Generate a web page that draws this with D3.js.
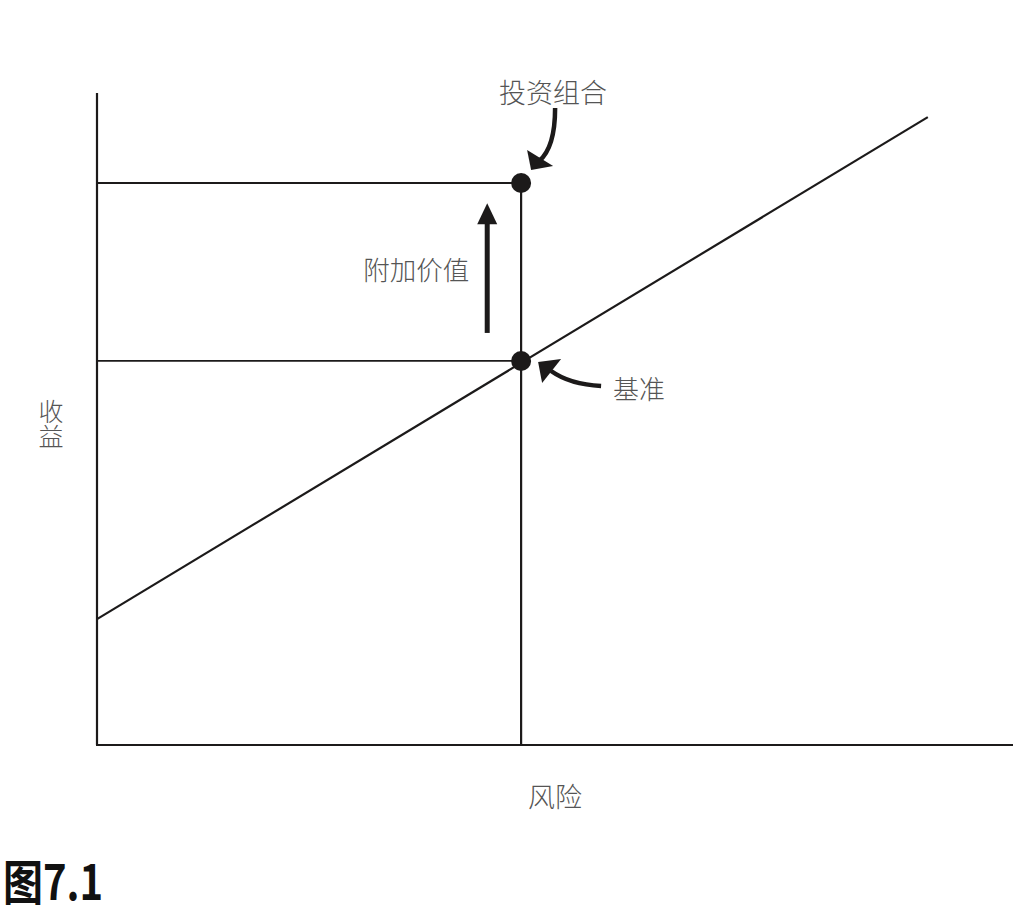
<!DOCTYPE html>
<html><head><meta charset="utf-8">
<script src="https://cdn.jsdelivr.net/npm/d3@7"></script>
<style>html,body{margin:0;padding:0;background:#fff;}</style>
</head><body>
<script>
// Data (abstract units, 0-100)
const riskDomain = [0, 100];
const returnDomain = [0, 100];
const benchmarkLine = [{risk: 0, ret: 19.3}, {risk: 90.7, ret: 96.3}];
const points = [
  {name: "投资组合", risk: 46.3, ret: 86.2},
  {name: "基准", risk: 46.3, ret: 58.9}
];
const valueAdded = {label: "附加价值", risk: 42.6, from: 63.2, to: 83.1};
const axisLabels = {x: "风险", y: "收益"};
const figureTitle = "图7.1";

const W = 1030, H = 918;
const svg = d3.select("body").append("svg").attr("width", W).attr("height", H);
const x = d3.scaleLinear().domain(riskDomain).range([97, 1013]);
const y = d3.scaleLinear().domain(returnDomain).range([745, 93]);
const ink = "#1c1a1a";
const txt = "#555";
const font = "'Noto Sans CJK SC', 'Noto Sans', sans-serif";

// axes
svg.append("line").attr("x1", x(0)).attr("x2", x(0)).attr("y1", y(100)).attr("y2", y(0))
  .attr("stroke", ink).attr("stroke-width", 2.2);
svg.append("line").attr("x1", x(0) - 1).attr("x2", x(100)).attr("y1", y(0)).attr("y2", y(0))
  .attr("stroke", ink).attr("stroke-width", 2.2);

// benchmark line
svg.append("path").datum(benchmarkLine)
  .attr("d", d3.line().x(d => x(d.risk)).y(d => y(d.ret)))
  .attr("fill", "none").attr("stroke", ink).attr("stroke-width", 2.2);

// guide lines
const port = points[0], bench = points[1];
svg.append("line").attr("x1", x(port.risk)).attr("x2", x(port.risk)).attr("y1", y(port.ret)).attr("y2", y(0))
  .attr("stroke", ink).attr("stroke-width", 2.2);
points.forEach(p => {
  svg.append("line").attr("x1", x(0)).attr("x2", x(p.risk)).attr("y1", y(p.ret)).attr("y2", y(p.ret))
    .attr("stroke", ink).attr("stroke-width", 1.8);
});
svg.selectAll("circle.pt").data(points).join("circle").attr("class", "pt")
  .attr("cx", d => x(d.risk)).attr("cy", d => y(d.ret)).attr("r", 10).attr("fill", ink);

// value added arrow
const ax = x(valueAdded.risk);
svg.append("line").attr("x1", ax).attr("x2", ax).attr("y1", y(valueAdded.from)).attr("y2", y(valueAdded.to) + 16)
  .attr("stroke", ink).attr("stroke-width", 5);
svg.append("path")
  .attr("d", `M${ax},${y(valueAdded.to)} L${ax + 10},${y(valueAdded.to) + 21} L${ax - 10},${y(valueAdded.to) + 21} Z`)
  .attr("fill", ink);
svg.append("text").attr("x", ax - 18).attr("y", (y(valueAdded.from) + y(valueAdded.to)) / 2)
  .attr("text-anchor", "end").attr("dominant-baseline", "central")
  .attr("font-family", font).attr("font-weight", 300).attr("font-size", 26.5).attr("fill", txt)
  .text(valueAdded.label);

// portfolio label + curved arrow
const px = x(port.risk), py = y(port.ret);
svg.append("text").attr("x", px + 32).attr("y", py - 91)
  .attr("text-anchor", "middle").attr("dominant-baseline", "central")
  .attr("font-family", font).attr("font-weight", 300).attr("font-size", 27).attr("fill", txt)
  .text(port.name);
svg.append("path")
  .attr("d", `M${px + 34},${py - 75} C${px + 34},${py - 50} ${px + 30},${py - 32} ${px + 18},${py - 22}`)
  .attr("fill", "none").attr("stroke", ink).attr("stroke-width", 4.5);
svg.append("path")
  .attr("d", `M${px + 10},${py - 13} L${px + 6},${py - 33} L${px + 32},${py - 17} Z`)
  .attr("fill", ink);

// benchmark label + curved arrow
const bx = x(bench.risk), by = y(bench.ret);
svg.append("text").attr("x", bx + 92).attr("y", by + 27)
  .attr("text-anchor", "start").attr("dominant-baseline", "central")
  .attr("font-family", font).attr("font-weight", 300).attr("font-size", 26).attr("fill", txt)
  .text(bench.name);
svg.append("path")
  .attr("d", `M${bx + 80},${by + 25} C${bx + 60},${by + 24} ${bx + 44},${by + 20} ${bx + 30},${by + 10}`)
  .attr("fill", "none").attr("stroke", ink).attr("stroke-width", 4.5);
svg.append("path")
  .attr("d", `M${bx + 17},${by + 1} L${bx + 40},${by - 2} L${bx + 21},${by + 22} Z`)
  .attr("fill", ink);

// axis labels
svg.append("text").attr("x", x(port.risk) + 34).attr("y", 795)
  .attr("text-anchor", "middle").attr("dominant-baseline", "central")
  .attr("font-family", font).attr("font-weight", 300).attr("font-size", 27).attr("fill", txt)
  .text(axisLabels.x);
svg.append("text")
  .attr("x", 51).attr("y", 424)
  .attr("text-anchor", "middle")
  .style("writing-mode", "vertical-rl")
  .attr("font-family", font).attr("font-weight", 300).attr("font-size", 25).attr("fill", txt)
  .text(axisLabels.y);

// figure title
svg.append("text").attr("transform", "translate(3,900) scale(1,1.2)")
  .attr("font-family", font).attr("font-weight", 700).attr("font-size", 40).attr("fill", "#111")
  .text(figureTitle);
</script>
</body></html>
